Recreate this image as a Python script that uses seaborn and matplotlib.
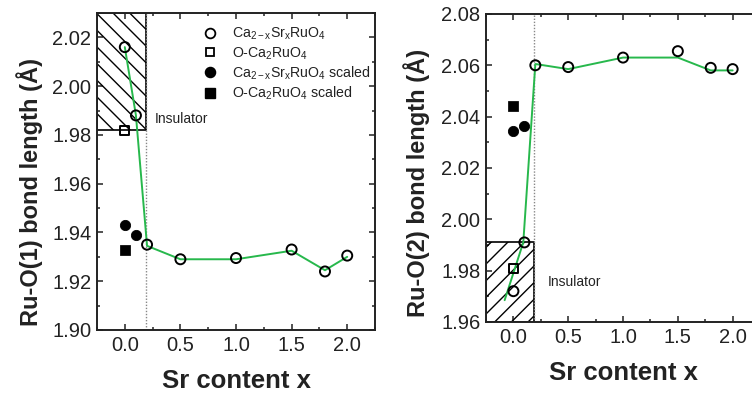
import matplotlib
matplotlib.use("Agg")
import matplotlib.pyplot as plt
from matplotlib.lines import Line2D
from matplotlib.ticker import MultipleLocator, FormatStrFormatter
import seaborn as sns

# ---------------- data ----------------
# Ca(2-x)Sr(x)RuO4 series
sr_x = [0.0, 0.1, 0.2, 0.5, 1.0, 1.5, 1.8, 2.0]
ruo1 = [2.016, 1.988, 1.935, 1.929, 1.9295, 1.933, 1.924, 1.9305]
ruo2 = [1.972, 1.991, 2.060, 2.0593, 2.063, 2.0655, 2.059, 2.0585]

# guide lines through the series
ruo1_guide_x = [0.0, 0.1, 0.2, 0.5, 1.0, 1.5, 1.8, 2.0]
ruo1_guide_y = [2.016, 1.988, 1.9345, 1.929, 1.929, 1.9325, 1.9245, 1.930]
ruo2_guide_x = [-0.08, 0.09, 0.2, 0.5, 1.0, 1.5, 1.8, 2.0]
ruo2_guide_y = [1.9685, 1.991, 2.0605, 2.0585, 2.063, 2.063, 2.058, 2.058]

# O-Ca2RuO4
oca_x = [0.0]
oca_ruo1 = [1.982]
oca_ruo2 = [1.981]

# scaled values
scaled_x = [0.0, 0.1]
scaled_ruo1 = [1.943, 1.939]
scaled_ruo2 = [2.0344, 2.0363]
oca_scaled_x = [0.0]
oca_scaled_ruo1 = [1.933]
oca_scaled_ruo2 = [2.044]

# insulating region boundary
x_boundary = 0.19
ins1_low = 1.982
ins2_high = 1.991

xlim = (-0.25, 2.25)
ylim1 = (1.90, 2.03)
ylim2 = (1.96, 2.08)

legend_labels = [r"Ca$_{2-x}$Sr$_x$RuO$_4$", r"O-Ca$_2$RuO$_4$",
                 r"Ca$_{2-x}$Sr$_x$RuO$_4$ scaled", r"O-Ca$_2$RuO$_4$ scaled"]

# ---------------- style ----------------
sns.set_style("ticks")
plt.rcParams["font.family"] = ["Liberation Sans", "DejaVu Sans"]
plt.rcParams["mathtext.fontset"] = "custom"
plt.rcParams["mathtext.rm"] = "Liberation Sans"
plt.rcParams["mathtext.it"] = "Liberation Sans"
plt.rcParams["hatch.linewidth"] = 1.0
plt.rcParams["axes.linewidth"] = 1.4

GREEN = "#27b84c"
INK = "#222222"
MS = 52

fig = plt.figure(figsize=(7.52, 3.98), dpi=100)
ax1 = fig.add_axes([0.129, 0.1709, 0.3697, 0.7965])
ax2 = fig.add_axes([0.6463, 0.191, 0.3644, 0.774])


def style_axes(ax, ylim, ylabel, label_xy):
    ax.set_xlim(*xlim)
    ax.set_ylim(*ylim)
    ax.xaxis.set_major_locator(MultipleLocator(0.5))
    ax.xaxis.set_minor_locator(MultipleLocator(0.25))
    ax.yaxis.set_major_locator(MultipleLocator(0.02))
    ax.yaxis.set_minor_locator(MultipleLocator(0.01))
    ax.tick_params(which="both", direction="in", top=True, right=True,
                   width=1.1, labelsize=14.5, colors=INK)
    ax.tick_params(which="major", length=4.5, pad=4)
    ax.tick_params(which="minor", length=2.5)
    ax.yaxis.set_major_formatter(FormatStrFormatter("%.2f"))
    ax.xaxis.set_major_formatter(FormatStrFormatter("%.1f"))
    ax.set_xlabel("Sr content x", fontsize=18.5, fontweight="bold", labelpad=10.5, color=INK)
    ax.set_ylabel(ylabel, fontsize=17, fontweight="bold", color=INK)
    ax.yaxis.set_label_coords(*label_xy)
    for s in ax.spines.values():
        s.set_visible(True)
        s.set_color(INK)


def draw_points(ax, y_series, y_oca, y_scaled, y_oca_scaled):
    sns.scatterplot(x=sr_x, y=y_series, ax=ax, marker="o", s=MS,
                    facecolors="none", edgecolors="black", linewidths=1.4, zorder=4)
    sns.scatterplot(x=oca_x, y=y_oca, ax=ax, marker="s", s=MS * 0.8,
                    facecolors="none", edgecolors="black", linewidths=1.4, zorder=4)
    sns.scatterplot(x=scaled_x, y=y_scaled, ax=ax, marker="o", s=MS * 1.05,
                    color="black", edgecolor="black", zorder=4)
    sns.scatterplot(x=oca_scaled_x, y=y_oca_scaled, ax=ax, marker="s", s=MS * 0.85,
                    color="black", edgecolor="black", zorder=4)


# ---------------- left panel: Ru-O(1) ----------------
ax1.fill_between([xlim[0], x_boundary], ins1_low, ylim1[1], hatch="\\\\",
                 facecolor="none", edgecolor="black", linewidth=1.2, zorder=1)
ax1.axvline(x_boundary, color="#888888", ls=(0, (1, 1.2)), lw=1.0, zorder=1)
sns.lineplot(x=ruo1_guide_x, y=ruo1_guide_y, ax=ax1, color=GREEN, lw=1.4,
             sort=False, estimator=None, zorder=3)
draw_points(ax1, ruo1, oca_ruo1, scaled_ruo1, oca_scaled_ruo1)
ax1.text(0.27, 1.9865, "Insulator", fontsize=10, ha="left", va="center", color=INK)
style_axes(ax1, ylim1, "Ru-O(1) bond length (Å)", (-0.195, 0.435))

handles = [
    Line2D([], [], ls="", marker="o", ms=7, mfc="none", mec="black", mew=1.3),
    Line2D([], [], ls="", marker="s", ms=6.3, mfc="none", mec="black", mew=1.3),
    Line2D([], [], ls="", marker="o", ms=7.3, mfc="black", mec="black"),
    Line2D([], [], ls="", marker="s", ms=6.5, mfc="black", mec="black"),
]
leg = ax1.legend(handles, legend_labels, loc="upper left", bbox_to_anchor=(0.362, 0.977),
                 frameon=False, fontsize=10.2, handlelength=1.0, handletextpad=1.0,
                 labelspacing=0.2, borderaxespad=0.0, borderpad=0.4)
for t in leg.get_texts():
    t.set_color(INK)

# ---------------- right panel: Ru-O(2) ----------------
ax2.fill_between([xlim[0], x_boundary], ylim2[0], ins2_high, hatch="//",
                 facecolor="none", edgecolor="black", linewidth=1.2, zorder=1)
ax2.axvline(x_boundary, color="#888888", ls=(0, (1, 1.2)), lw=1.0, zorder=1)
sns.lineplot(x=ruo2_guide_x, y=ruo2_guide_y, ax=ax2, color=GREEN, lw=1.4,
             sort=False, estimator=None, zorder=3)
draw_points(ax2, ruo2, oca_ruo2, scaled_ruo2, oca_scaled_ruo2)
ax2.text(0.31, 1.9755, "Insulator", fontsize=10, ha="left", va="center", color=INK)
style_axes(ax2, ylim2, "Ru-O(2) bond length (Å)", (-0.205, 0.45))

fig.savefig("out.png", dpi=100)
